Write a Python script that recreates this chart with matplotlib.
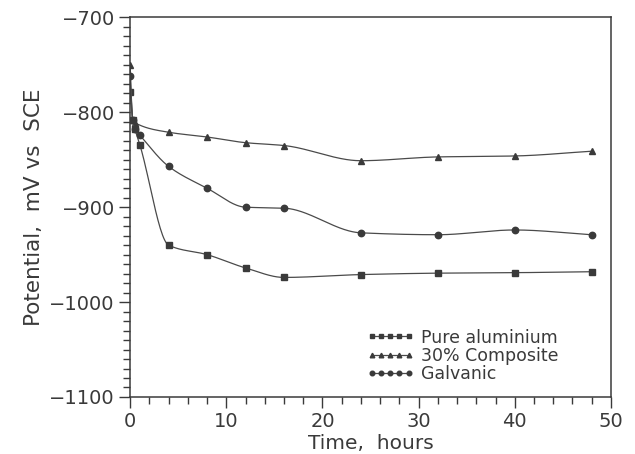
import numpy as np
import matplotlib
matplotlib.use("Agg")
import matplotlib.pyplot as plt
from matplotlib.ticker import MultipleLocator
from matplotlib.lines import Line2D

# ---- data ----
t_al = [0, 0.25, 0.5, 1, 4, 8, 12, 16, 24, 32, 40, 48]
v_al = [-779, -808, -818, -834, -940, -950, -964, -974, -971, -969.5, -969, -968]

t_comp = [0, 0.25, 0.5, 4, 8, 12, 16, 24, 32, 40, 48]
v_comp = [-750, -808, -811, -821, -826, -832, -835, -851, -847, -846, -841]

t_galv = [0, 0.25, 0.5, 1, 4, 8, 12, 16, 24, 32, 40, 48]
v_galv = [-762, -808, -818, -824, -857, -880, -900, -901, -927, -929, -924, -929]

labels = ["Pure aluminium", "30% Composite", "Galvanic"]
markers = ["s", "^", "o"]

xticks = [0, 10, 20, 30, 40, 50]
yticks = [-1100, -1000, -900, -800, -700]


def pchip(x, y, n=400):
    """Monotone cubic (Fritsch-Carlson) curve through the data points."""
    x = np.asarray(x, float)
    y = np.asarray(y, float)
    h = np.diff(x)
    d = np.diff(y) / h
    m = np.zeros_like(y)
    for k in range(1, len(x) - 1):
        if d[k - 1] * d[k] <= 0:
            m[k] = 0.0
        else:
            w1 = 2 * h[k] + h[k - 1]
            w2 = h[k] + 2 * h[k - 1]
            m[k] = (w1 + w2) / (w1 / d[k - 1] + w2 / d[k])
    m[0] = d[0]
    m[-1] = d[-1]
    xs = np.linspace(x[0], x[-1], n)
    xs = np.unique(np.concatenate([xs, x]))
    idx = np.clip(np.searchsorted(x, xs) - 1, 0, len(x) - 2)
    hh = h[idx]
    s = (xs - x[idx]) / hh
    h00 = 2 * s**3 - 3 * s**2 + 1
    h10 = s**3 - 2 * s**2 + s
    h01 = -2 * s**3 + 3 * s**2
    h11 = s**3 - s**2
    ys = h00 * y[idx] + h10 * hh * m[idx] + h01 * y[idx + 1] + h11 * hh * m[idx + 1]
    return xs, ys


plt.rcParams['font.family'] = ['DejaVu Sans']
ink = '#3a3a3a'
line_c = '#4a4a4a'

fig = plt.figure(figsize=(6.35, 4.54), dpi=100)
ax = fig.add_axes([0.205, 0.1256, 0.757, 0.836])

series = [(t_al, v_al), (t_comp, v_comp), (t_galv, v_galv)]
msizes = [4.0, 4.3, 4.6]
for (t, v), mk, lab, ms in zip(series, markers, labels, msizes):
    xs, ys = pchip(t, v)
    ax.plot(xs, ys, color=line_c, lw=0.9)
    ax.plot(t, v, linestyle='none', marker=mk, ms=ms, color=ink, mec=ink)

# legend proxies
handles = [Line2D([0], [0], color=line_c, lw=0.9, marker=mk, ms=3.3, mfc=ink, mec=ink)
           for mk in markers]
leg = ax.legend(handles, labels, loc='lower right', bbox_to_anchor=(0.905, 0.018),
                frameon=False, numpoints=5, handlelength=2.7, handletextpad=0.4,
                labelspacing=0.02, fontsize=12.5, borderaxespad=0.0)
for txt in leg.get_texts():
    txt.set_color(ink)

ax.set_xlim(0, 50)
ax.set_ylim(-1100, -700)
ax.set_xticks(xticks)
ax.set_yticks(yticks)
ax.xaxis.set_minor_locator(MultipleLocator(2))
ax.yaxis.set_minor_locator(MultipleLocator(10))
ax.tick_params(which='major', direction='out', length=8, width=1.0, color=ink,
               labelsize=14, labelcolor=ink, pad=3)
ax.tick_params(which='minor', direction='out', length=5, width=1.0, color=ink)
ax.tick_params(top=False, right=False, which='both')

for sp in ax.spines.values():
    sp.set_color(ink)
    sp.set_linewidth(1.1)

ax.set_xlabel("Time,  hours", fontsize=14.5, color=ink, labelpad=2)
ax.set_ylabel("Potential,  mV vs  SCE", fontsize=15.5, color=ink, labelpad=4)

fig.savefig("out.png", dpi=100, facecolor='white')
